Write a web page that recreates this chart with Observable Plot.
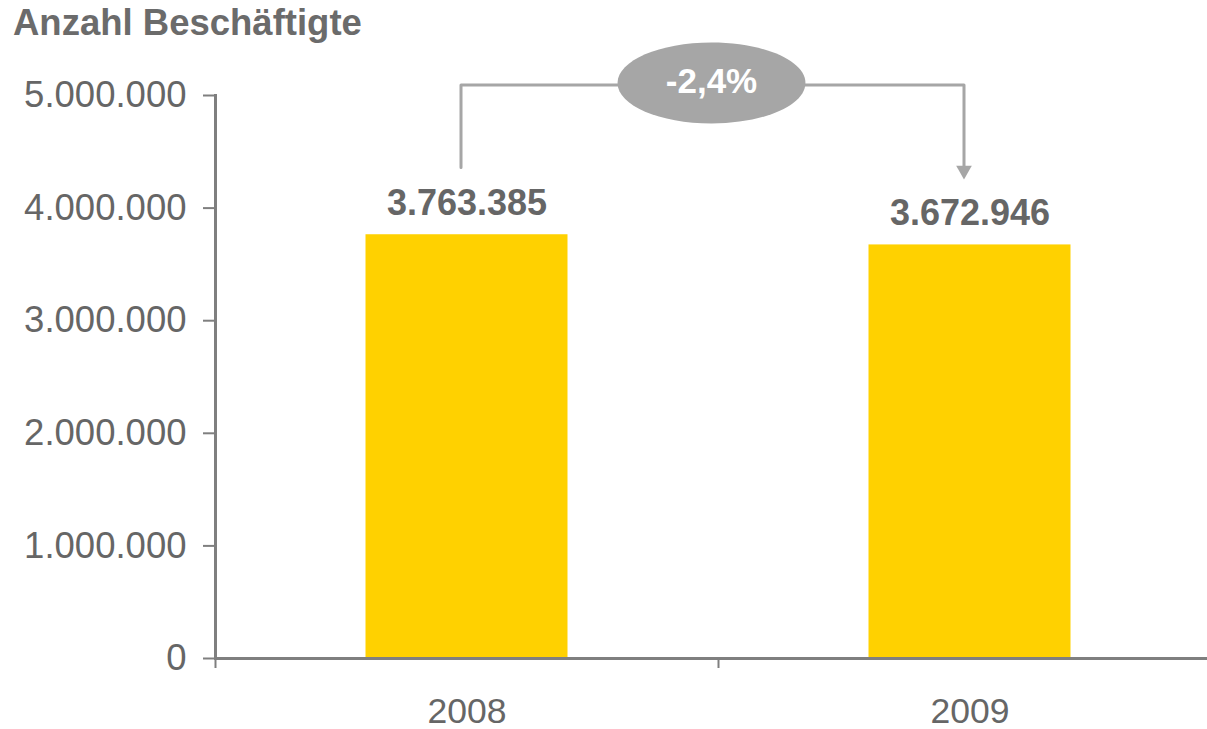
<!DOCTYPE html>
<html><head><meta charset="utf-8">
<script src="https://cdn.jsdelivr.net/npm/d3@7"></script>
<script src="https://cdn.jsdelivr.net/npm/@observablehq/plot@0.6"></script>
<style>
html,body{margin:0;padding:0;background:#fff;overflow:hidden;font-family:"Liberation Sans",Arial,sans-serif;}
#title{height:45px;box-sizing:border-box;padding:3px 0 0 13px;font-size:36.5px;font-weight:bold;color:#6b6b6b;line-height:40px;white-space:nowrap;}
#chart svg{display:block;}
</style></head><body>
<div id="title">Anzahl Beschäftigte</div>
<div id="chart"></div>
<script>
const years = ["2008", "2009"];
const employees = [3763385, 3672946];
const yTicks = [0, 1000000, 2000000, 3000000, 4000000, 5000000];
// bracket annotation (in data units)
const bracketYears = ["2008", "2008", "2009", "2009"];
const bracketValues = [4360000, 5093000, 5093000, 4370000];
const arrowValue = 4335000;

const de = d3.formatLocale({decimal: ",", thousands: ".", grouping: [3], currency: ["", " €"], minus: "-"});
const fmt = de.format(",d");
const change = (employees[1] / employees[0] - 1) * 100;
const changeLabel = de.format(".1f")(change) + "%";

const data = years.map((year, i) => ({year, value: employees[i]}));
const bracket = bracketYears.map((year, i) => ({year, y: bracketValues[i]}));
const bracketTop = bracketValues[1];

const ellipse = {
  draw(ctx, size) {
    const r = Math.sqrt(size / Math.PI);
    const rx = r * 2.32, ry = r, k = 0.5523;
    ctx.moveTo(rx, 0);
    ctx.bezierCurveTo(rx, ry * k, rx * k, ry, 0, ry);
    ctx.bezierCurveTo(-rx * k, ry, -rx, ry * k, -rx, 0);
    ctx.bezierCurveTo(-rx, -ry * k, -rx * k, -ry, 0, -ry);
    ctx.bezierCurveTo(rx * k, -ry, rx, -ry * k, rx, 0);
    ctx.closePath();
  }
};

const axisColor = "#7f7f7f";
const textColor = "#666666";
const annoColor = "#a6a6a6";

const chart = Plot.plot({
  width: 1207,
  height: 684,
  marginTop: 50,
  marginBottom: 71,
  marginLeft: 215,
  marginRight: 0,
  style: {fontFamily: "'Liberation Sans', Arial, sans-serif", background: "#fff", overflow: "visible"},
  x: {domain: years, range: [215, 1221], padding: 0},
  y: {domain: [0, 5000000]},
  marks: [
    Plot.barY(data, {x: "year", y: "value", fill: "#FFD100", insetLeft: 150.5, insetRight: 150.5}),
    Plot.ruleY([0], {stroke: axisColor, strokeWidth: 3}),
    Plot.frame({anchor: "left", stroke: axisColor, strokeWidth: 3}),
    Plot.axisY({ticks: yTicks, tickFormat: fmt, tickSize: 12, tickPadding: 17, fontSize: 36.5, fill: textColor, stroke: axisColor, strokeWidth: 2, label: null}),
    Plot.axisX({tickSize: 10, dx: -251.5, text: null, stroke: axisColor, strokeWidth: 2, label: null}),
    Plot.axisX({tickSize: 0, tickPadding: 39, fontSize: 35.5, fill: textColor, label: null}),
    Plot.text(data, {x: "year", y: "value", text: d => fmt(d.value), lineAnchor: "bottom", dy: -20, fontSize: 36, fontWeight: "bold", fill: textColor}),
    Plot.line(bracket, {x: "year", y: "y", stroke: annoColor, strokeWidth: 3, dx: -6}),
    Plot.dot([{year: "2009", y: arrowValue}], {x: "year", y: "y", symbol: "triangle", r: 5.8, rotate: 180, fill: annoColor, stroke: "none", dx: -6}),
    Plot.dot([bracketTop], {y: d => d, frameAnchor: "middle", symbol: ellipse, r: 40.5, fill: annoColor, stroke: "none", dy: -2}),
    Plot.text([changeLabel], {y: () => bracketTop, frameAnchor: "middle", text: d => d, fill: "white", fontWeight: "bold", fontSize: 35, dy: -3})
  ]
});
document.getElementById("chart").appendChild(chart);
</script>
</body></html>
